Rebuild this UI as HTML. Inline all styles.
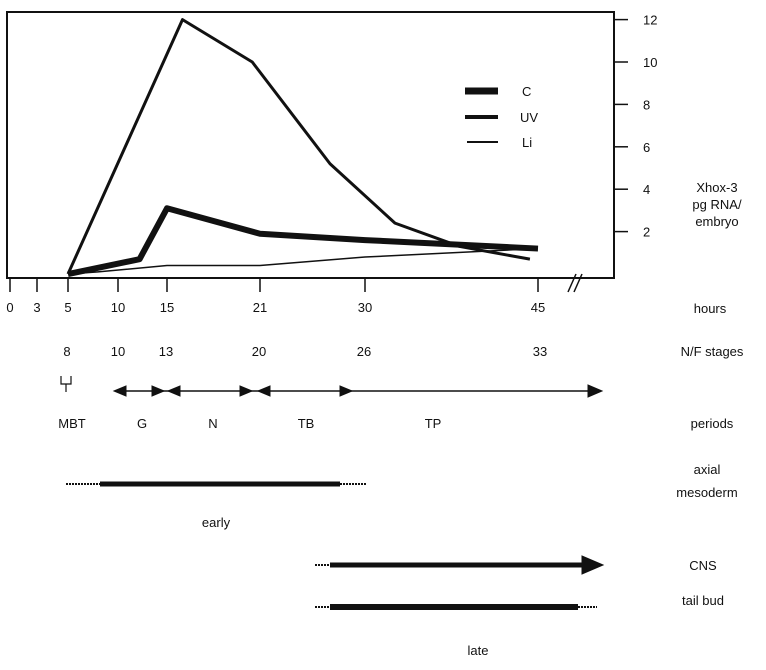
<!DOCTYPE html>
<html><head><meta charset="utf-8"><style>
body{margin:0;background:#fff}
svg text{font-family:"Liberation Sans",sans-serif;font-size:13px;fill:#111}
</style></head><body>
<svg id="chart" width="766" height="665" xmlns="http://www.w3.org/2000/svg">
<rect x="7" y="12" width="607" height="266" fill="none" stroke="#111" stroke-width="2"/>
<g id="axes"></g><g id="series"></g><g id="legend"></g>
<g id="lower"></g>
</svg>
<script>
const hourTicks=[0,3,5,10,15,21,30,45];
const hourTickPx=[10,37,68,118,167,260,365,538];
const yTicks=[2,4,6,8,10,12];
const uvHours=[5,16,20.5,27,32.6,38.2,44.3];
const uvValues=[0,12,10,5.2,2.4,1.3,0.7];
const cHours=[5,12.2,15,21,30,45];
const cValues=[0,0.7,3.1,1.9,1.6,1.2];
const liHours=[5,8,15,21,30,45];
const liValues=[0,0.1,0.4,0.4,0.8,1.2];
const stages=["8","10","13","20","26","33"];
const stageHours=[5,10,15,21,30,45];
const NS="http://www.w3.org/2000/svg";
function xs(h){for(let i=0;i<hourTicks.length-1;i++){if(h<=hourTicks[i+1]){const a=hourTicks[i],b=hourTicks[i+1];return hourTickPx[i]+(h-a)/(b-a)*(hourTickPx[i+1]-hourTickPx[i]);}}return hourTickPx[hourTickPx.length-1];}
function ys(v){return 274-21.2*v;}
function mk(t,at,p){const e=document.createElementNS(NS,t);for(const k in at)e.setAttribute(k,at[k]);(p||document.getElementById('chart')).appendChild(e);return e;}
const ax=document.getElementById('axes');
hourTicks.forEach((h,i)=>{
 const l=mk('line',{x1:xs(h),x2:xs(h),y1:278,y2:292,stroke:'#111','stroke-width':1.5},ax);
 
 
 const t=mk('text',{x:xs(h),y:312,'text-anchor':'middle'},ax);t.textContent=h;
 
 
});
yTicks.forEach(v=>{
 const l=mk('line',{x1:614,x2:628,y1:ys(v),y2:ys(v),stroke:'#111','stroke-width':1.5},ax);
 
 
 const t=mk('text',{x:643,y:ys(v)+5,'text-anchor':'start'},ax);t.textContent=v;
 
 
});
function series(hs,vs,w,name){
 const p=mk('polyline',{points:hs.map((h,i)=>xs(h)+','+ys(vs[i])).join(' '),fill:'none',stroke:'#111','stroke-width':w,'stroke-linejoin':'round'},document.getElementById('series'));
 
 
}
series(liHours,liValues,1.5,'series-li');
series(uvHours,uvValues,3,'series-uv');
series(cHours,cValues,6,'series-c');
</script>
<svg style="position:absolute;left:0;top:0" width="766" height="665" xmlns="http://www.w3.org/2000/svg">
<g stroke="#111">
<line x1="465" y1="91" x2="498" y2="91" stroke-width="7"/>
<line x1="465" y1="117" x2="498" y2="117" stroke-width="4"/>
<line x1="467" y1="142" x2="498" y2="142" stroke-width="2"/>
</g>
<g font-family="Liberation Sans, sans-serif" font-size="13" fill="#111">
<text x="522" y="96">C</text>
<text x="520" y="122">UV</text>
<text x="522" y="147">Li</text>
<g text-anchor="middle">
<text x="717" y="192">Xhox-3</text><text x="717" y="209">pg RNA/</text><text x="717" y="226">embryo</text></g>
<text x="710" y="313" text-anchor="middle">hours</text>
<text x="712" y="356" text-anchor="middle">N/F stages</text>
<text x="712" y="428" text-anchor="middle">periods</text>
<text x="707" y="474" text-anchor="middle">axial</text>
<text x="707" y="497" text-anchor="middle">mesoderm</text>
<text x="703" y="570" text-anchor="middle">CNS</text>
<text x="703" y="605" text-anchor="middle">tail bud</text>
<text x="216" y="527" text-anchor="middle">early</text>
<text x="478" y="655" text-anchor="middle">late</text>
<g text-anchor="middle">
<text x="67" y="356">8</text><text x="118" y="356">10</text><text x="166" y="356">13</text><text x="259" y="356">20</text><text x="364" y="356">26</text><text x="540" y="356">33</text></g>
<g text-anchor="middle">
<text x="72" y="428">MBT</text><text x="142" y="428">G</text><text x="213" y="428">N</text><text x="306" y="428">TB</text><text x="433" y="428">TP</text></g>
</g>
<g stroke="#111" fill="#111">
<path d="M61 376 v8 h10 v-8 M66 384 v8" fill="none" stroke-width="1.2"/>
<line x1="118" y1="391" x2="598" y2="391" stroke-width="1.5"/>
<polygon points="114,391 126,386 126,396"/><polygon points="164,391 152,386 152,396"/>
<polygon points="168,391 180,386 180,396"/><polygon points="252,391 240,386 240,396"/>
<polygon points="258,391 270,386 270,396"/><polygon points="352,391 340,386 340,396"/>
<polygon points="602,391 588,385 588,397"/>
</g>
<g stroke="#111" stroke-width="1.5">
<line x1="568" y1="292" x2="576" y2="274"/><line x1="574" y1="292" x2="582" y2="274"/></g>
<g stroke="#111" fill="#111">
<line x1="66" y1="484" x2="100" y2="484" stroke-width="2" stroke-dasharray="2 1"/>
<line x1="100" y1="484" x2="340" y2="484" stroke-width="5"/>
<line x1="340" y1="484" x2="366" y2="484" stroke-width="2" stroke-dasharray="2 1"/>
<line x1="315" y1="565" x2="330" y2="565" stroke-width="2" stroke-dasharray="2 1"/>
<line x1="330" y1="565" x2="585" y2="565" stroke-width="5"/>
<polygon points="603,565 582,556 582,574"/>
<line x1="315" y1="607" x2="330" y2="607" stroke-width="2" stroke-dasharray="2 1"/>
<line x1="330" y1="607" x2="578" y2="607" stroke-width="6"/>
<line x1="578" y1="607" x2="597" y2="607" stroke-width="2" stroke-dasharray="2 1"/>
</g>
</svg>
</body></html>
